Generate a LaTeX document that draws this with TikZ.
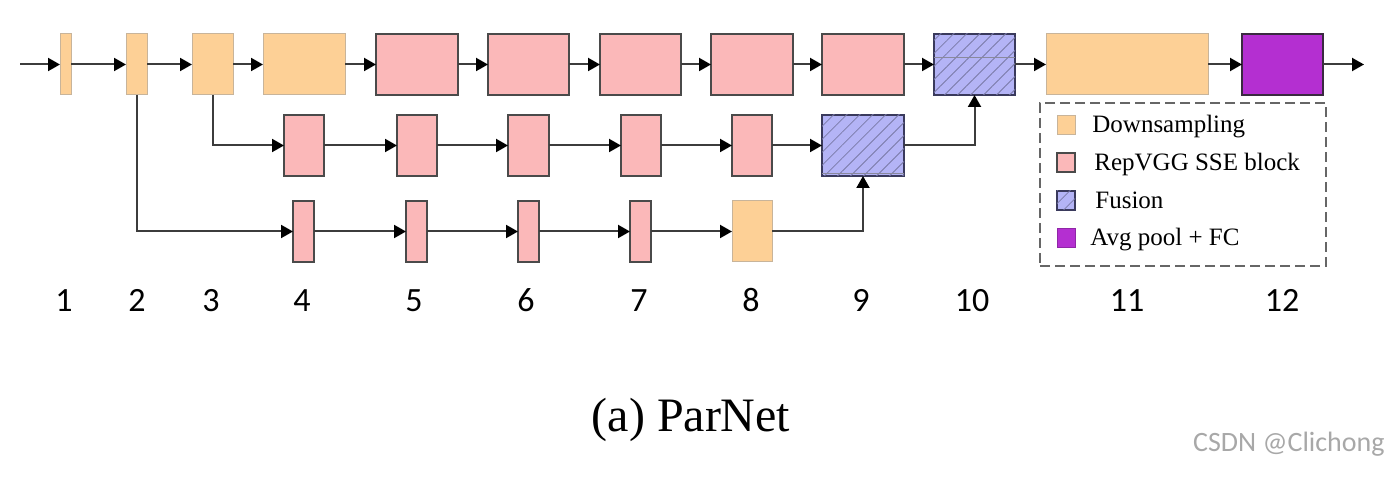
\documentclass[tikz,border=0pt]{standalone}
\usepackage{fontspec}
\setmainfont{Liberation Serif}
\newfontfamily\numfont{Carlito}
\usetikzlibrary{arrows.meta,patterns.meta}
\definecolor{dsfill}{HTML}{FDD096}
\definecolor{dsdraw}{HTML}{C8B49A}
\definecolor{rpfill}{HTML}{FBB8B9}
\definecolor{rpdraw}{HTML}{4A4A4A}
\definecolor{fufill}{HTML}{B4B4F6}
\definecolor{fudraw}{HTML}{3A3A5C}
\definecolor{fuhatch}{HTML}{7A7AA8}
\definecolor{apfill}{HTML}{B42FD1}
\definecolor{apdraw}{HTML}{3A2A40}
\definecolor{wm}{HTML}{A8A8A8}
\definecolor{lncol}{HTML}{3C3C3C}
\tikzset{
  blk/.style={inner sep=0pt,outer sep=0pt,minimum height=30.5pt},
  ds/.style={blk,fill=dsfill,draw=dsdraw,line width=0.5pt},
  rp/.style={blk,fill=rpfill,draw=rpdraw,line width=0.7pt},
  fu/.style={blk,fill=fufill,draw=fudraw,line width=0.7pt,
    postaction={pattern={Lines[angle=45,distance=4.6pt,line width=0.4pt]},pattern color=fuhatch}},
  ap/.style={blk,fill=apfill,draw=apdraw,line width=0.7pt},
  conn/.style={line width=1pt,draw=lncol,-{Triangle[length=6pt,width=6.5pt,color=black]}},
  lab/.style={font=\numfont\fontsize{17pt}{19pt}\selectfont,inner sep=0pt,anchor=base},
  legtxt/.style={anchor=base west,inner sep=0pt,font=\fontsize{12.5pt}{14pt}\selectfont},
  sw/.style={inner sep=0pt,outer sep=0pt,minimum width=9pt,minimum height=9.5pt}
}
\newcommand\blk[5]{\node[#1,minimum width=#4*0.5pt] (#2) at (#3,#5) {};}
\begin{document}
\begin{tikzpicture}[x=0.5pt,y=-0.5pt]
\useasboundingbox (0,0) rectangle (1400,480);
% top row
\blk{ds}{t1}{65.5}{11}{64.5}
\blk{ds}{t2}{136.5}{21}{64.5}
\blk{ds}{t3}{212.5}{41}{64.5}
\blk{ds}{t4}{304}{82}{64.5}
\blk{rp}{t5}{417}{82}{64.5}
\blk{rp}{t6}{528.5}{81}{64.5}
\blk{rp}{t7}{640.5}{81}{64.5}
\blk{rp}{t8}{752}{82}{64.5}
\blk{rp}{t9}{863}{82}{64.5}
\blk{fu}{t10}{974.5}{81}{64.5}
\blk{ds}{t11}{1127}{162}{64.5}
\blk{ap}{t12}{1282.5}{81}{64.5}
% middle row
\blk{rp}{m4}{304}{40}{145.5}
\blk{rp}{m5}{417}{40}{145.5}
\blk{rp}{m6}{528.5}{41}{145.5}
\blk{rp}{m7}{641}{40}{145.5}
\blk{rp}{m8}{752}{40}{145.5}
\blk{fu}{m9}{863}{82}{145.5}
% bottom row
\blk{rp}{b4}{303.5}{21}{231.5}
\blk{rp}{b5}{416.5}{21}{231.5}
\blk{rp}{b6}{528.5}{21}{231.5}
\blk{rp}{b7}{640.5}{21}{231.5}
\blk{ds}{b8}{752}{40}{231.5}
% faint lines in fusion blocks
\draw[fudraw!60,line width=0.3pt] (t10.west |- 0,57) -- (t10.east |- 0,57);
\draw[fudraw!60,line width=0.3pt] (m9.west |- 0,173) -- (m9.east |- 0,173);
% connectors
\coordinate (in) at (20,64.5);
\coordinate (out) at (1364,64.5);
\draw[conn] (in) -- (t1);
\draw[conn] (t1) -- (t2);
\draw[conn] (t2) -- (t3);
\draw[conn] (t3) -- (t4);
\draw[conn] (t4) -- (t5);
\draw[conn] (t5) -- (t6);
\draw[conn] (t6) -- (t7);
\draw[conn] (t7) -- (t8);
\draw[conn] (t8) -- (t9);
\draw[conn] (t9) -- (t10);
\draw[conn] (t10) -- (t11);
\draw[conn] (t11) -- (t12);
\draw[conn] (t12) -- (out);
\draw[conn] (t3.south) |- (m4.west);
\draw[conn] (m4) -- (m5);
\draw[conn] (m5) -- (m6);
\draw[conn] (m6) -- (m7);
\draw[conn] (m7) -- (m8);
\draw[conn] (m8) -- (m9);
\draw[conn] (m9.east) -| (t10.south);
\draw[conn] (t2.south) |- (b4.west);
\draw[conn] (b4) -- (b5);
\draw[conn] (b5) -- (b6);
\draw[conn] (b6) -- (b7);
\draw[conn] (b7) -- (b8);
\draw[conn] (b8.east) -| (m9.south);
% legend
\node[draw=black!60,dashed,dash pattern=on 5pt off 2.5pt,line width=0.6pt,inner sep=0pt,minimum width=143pt,minimum height=81.5pt] (leg) at (1183,184.5) {};
\node[sw,fill=dsfill,draw=dsdraw,line width=0.5pt] (s1) at (1066,125.5) {};
\node[sw,fill=rpfill,draw=rpdraw,line width=0.6pt] (s2) at (1066,162.5) {};
\node[sw,fill=fufill,draw=fudraw,line width=0.6pt,postaction={pattern={Lines[angle=45,distance=4.6pt,line width=0.4pt]},pattern color=fuhatch}] (s3) at (1066,200.5) {};
\node[sw,fill=apfill,draw=apfill!80!black,line width=0.5pt] (s4) at (1066,238) {};
\node[legtxt] (l1) at (1092,133) {Downsampling};
\node[legtxt] (l2) at (1094,170.5) {RepVGG SSE block};
\node[legtxt] (l3) at (1095,208.5) {Fusion};
\node[legtxt] (l4) at (1090,246) {Avg pool + FC};
% stage numbers
\foreach \n/\xx in {1/64,2/137,3/211,4/302,5/414,6/526,7/639,8/751,9/861,10/972,11/1127,12/1282}
  \node[lab] (n\n) at (\xx,312) {\n};
% caption
\node[inner sep=0pt,font=\fontsize{24pt}{28pt}\selectfont] (cap) at (691,420) {(a) ParNet};
\node[inner sep=0pt,anchor=east,text=wm,font=\numfont\fontsize{14pt}{16pt}\selectfont] (wmk) at (1385,444) {CSDN @Clichong};
\end{tikzpicture}
\end{document}
